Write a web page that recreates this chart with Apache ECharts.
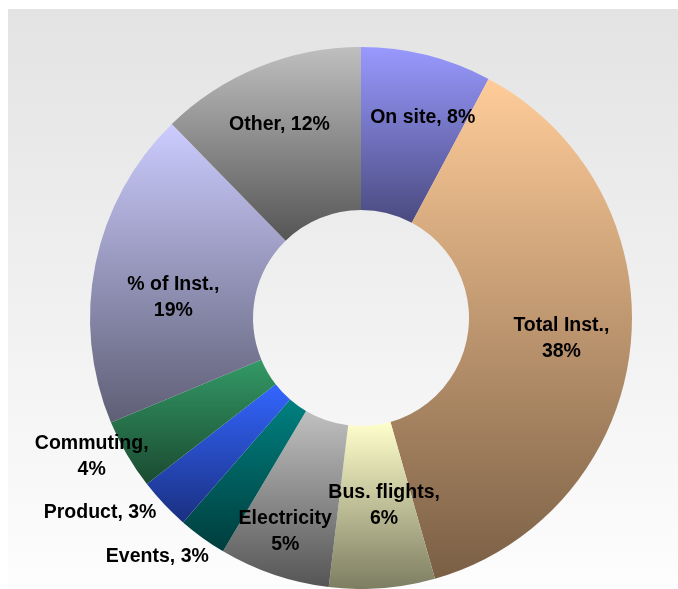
<!DOCTYPE html>
<html>
<head>
<meta charset="utf-8">
<script src="https://cdn.jsdelivr.net/npm/echarts@6/dist/echarts.min.js"></script>
<style>
  html, body { margin: 0; padding: 0; background: #ffffff; }
  #chart { width: 678px; height: 589px; }
</style>
</head>
<body>
<div id="chart"></div>
<script>
// slices, clockwise from 12 o'clock
var categories = ["On site", "Total Inst.", "Bus. flights", "Electricity", "Events", "Product", "Commuting", "% of Inst.", "Other"];
var shares = [7.8, 37.8, 6.3, 6.6, 2.9, 3.1, 4.2, 19.0, 12.3];
var labelTexts = ["On site, 8%", "Total Inst.,\n38%", "Bus. flights,\n6%", "Electricity\n5%", "Events, 3%", "Product, 3%", "Commuting,\n4%", "% of Inst.,\n19%", "Other, 12%"];

var topColors = ["#9999ff", "#ffcc99", "#ffffcc", "#c0c0c0", "#008080", "#3366ff", "#339966", "#ccccff", "#bfbfbf"];
var bottomColors = ["#4a4a80", "#7a5f45", "#7d7d62", "#555555", "#003d3d", "#1a2f80", "#1a4a30", "#5e5e75", "#555555"];

// nudge labels to where the original puts them
var labelShift = [[15, -14], [9, 0], [8, -4], [-14, 31], [-91, 83], [-121, 62], [-103, 42], [1, 18], [-9, -15]];

var myChart = echarts.init(document.getElementById("chart"));

var pieData = categories.map(function (name, i) {
  return {
    name: name,
    value: shares[i],
    itemStyle: {
      // 从上往下渐变
      color: new echarts.graphic.LinearGradient(0, 0, 0, 1, [
        { offset: 0, color: topColors[i] },
        { offset: 1, color: bottomColors[i] }
      ])
    },
    label: { formatter: labelTexts[i] }
  };
});

myChart.setOption({
  animation: false,
  graphic: [
    {
      type: "rect",
      z: -10,
      silent: true,
      shape: { x: 8, y: 9, width: 670, height: 580 },
      style: {
        fill: new echarts.graphic.LinearGradient(0, 0, 0, 1, [
          { offset: 0, color: "#e3e3e3" },
          { offset: 1, color: "#fdfdfd" }
        ])
      }
    }
  ],
  series: [
    {
      type: "pie",
      center: [361, 318],
      radius: [108, 271],
      startAngle: 90,
      clockwise: true,
      avoidLabelOverlap: false,
      data: pieData,
      label: {
        show: true,
        position: "inside",
        color: "#000000",
        fontFamily: "Liberation Sans, Arial, sans-serif",
        fontWeight: "bold",
        fontSize: 19.5,
        lineHeight: 26,
        align: "center"
      },
      labelLine: { show: false },
      labelLayout: function (params) {
        var s = labelShift[params.dataIndex];
        return { dx: s[0], dy: s[1] };
      },
      emphasis: { disabled: true }
    }
  ]
});
</script>
</body>
</html>
